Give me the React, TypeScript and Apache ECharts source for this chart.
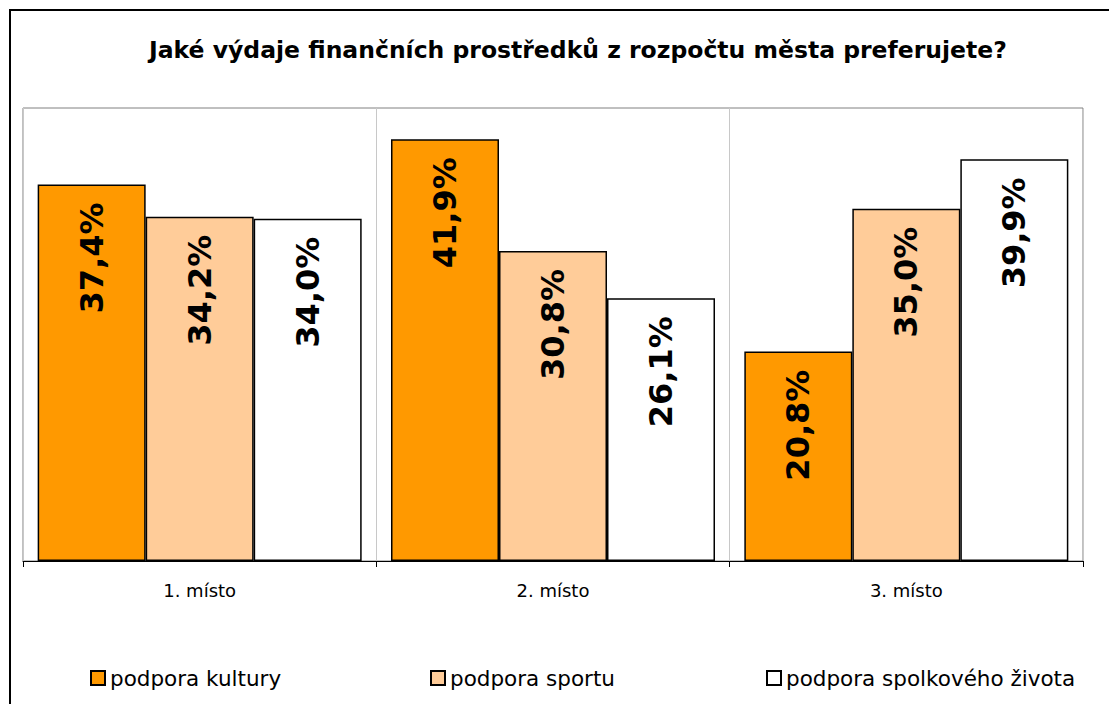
import React, { useEffect, useRef } from "react";
import * as echarts from "echarts";

const categories = ["1. místo", "2. místo", "3. místo"];
const seriesNames = ["podpora kultury", "podpora sportu", "podpora spolkového života"];
const kultura = [37.4, 41.9, 20.8];
const sport = [34.2, 30.8, 35.0];
const spolky = [34.0, 26.1, 39.9];
const colors = ["#FF9900", "#FFCC99", "#FFFFFF"];
const titleText = "Jaké výdaje finančních prostředků z rozpočtu města preferujete?";

const fmt = (v: number) => v.toFixed(1).replace(".", ",") + "%";

export default function App() {
  const ref = useRef<HTMLDivElement>(null);
  useEffect(() => {
    if (!ref.current) return;
    const chart = echarts.init(ref.current, null, { renderer: "svg" });
    const values = [kultura, sport, spolky];
    const font = "DejaVu Sans";
    const legendLefts = [85, 425, 761];
    chart.setOption({
      animation: false,
      backgroundColor: "#ffffff",
      title: {
        text: titleText,
        left: 144,
        top: 33,
        textStyle: { fontFamily: font, fontWeight: "bold", fontSize: 23.5, color: "#000" },
      },
      graphic: [
        {
          type: "rect",
          shape: { x: 10, y: 10, width: 1100, height: 700 },
          style: { fill: "none", stroke: "#000", lineWidth: 2 },
          silent: true,
        },
      ],
      legend: seriesNames.map((n, i) => ({
        data: [n],
        left: legendLefts[i],
        top: 662,
        icon: "rect",
        itemWidth: 14,
        itemHeight: 14,
        itemGap: 9,
        textStyle: { fontFamily: font, fontSize: 21.5, color: "#000" },
        selectedMode: false,
      })),
      grid: {
        left: 23,
        top: 108,
        width: 1060,
        height: 453,
        show: true,
        borderColor: "#808080",
        borderWidth: 1,
        containLabel: false,
      },
      xAxis: {
        type: "category",
        data: categories,
        axisLine: { lineStyle: { color: "#000", width: 1 } },
        axisTick: { show: true, length: 6, lineStyle: { color: "#000" } },
        axisLabel: { fontFamily: font, fontSize: 18, color: "#000", margin: 20 },
        splitLine: { show: true, lineStyle: { color: "#c8c8c8", width: 1 } },
      },
      yAxis: {
        type: "value",
        min: 0,
        max: 45,
        show: false,
        splitLine: { show: false },
      },
      series: seriesNames.map((n, i) => ({
        name: n,
        type: "bar",
        data: values[i],
        barGap: "0%",
        barCategoryGap: "8.3%",
        itemStyle: { color: colors[i], borderColor: "#000", borderWidth: 1.5 },
        label: {
          show: true,
          position: "insideTop",
          rotate: 90,
          align: "right",
          verticalAlign: "middle",
          distance: 18,
          formatter: (p: any) => fmt(p.value),
          fontFamily: font,
          fontWeight: "bold",
          fontSize: 32,
          color: "#000",
        },
      })),
    });
    return () => chart.dispose();
  }, []);
  return (
    <div
      ref={ref}
      style={{ position: "absolute", left: 0, top: 0, width: 1109, height: 704 }}
    />
  );
}
